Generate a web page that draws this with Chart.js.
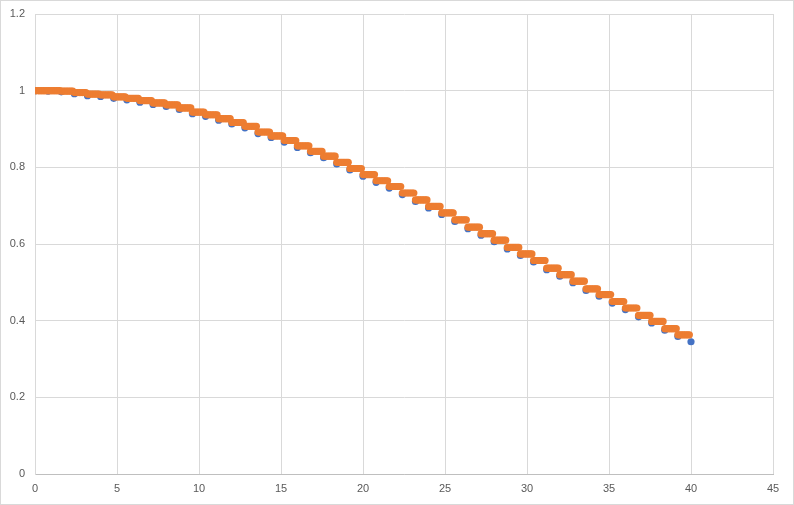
<!DOCTYPE html>
<html>
<head>
<meta charset="utf-8">
<script src="https://cdn.jsdelivr.net/npm/chart.js@4/dist/chart.umd.min.js"></script>
<style>
  html, body { margin: 0; padding: 0; background: #fff; }
  #wrap { position: absolute; left: 0; top: 0; width: 794px; height: 505px; box-sizing: border-box; border: 1px solid #d9d9d9; background: #fff; }
  canvas { display: block; }
</style>
</head>
<body>
<div id="wrap"><canvas id="c" width="792" height="503"></canvas></div>
<script>
// Tick labels
const xTicks = [0, 5, 10, 15, 20, 25, 30, 35, 40, 45];
const yTicks = [0, 0.2, 0.4, 0.6, 0.8, 1, 1.2];

// Series 1 (blue): sparse points
const blueX = [0, 0.8, 1.6, 2.4, 3.2, 4, 4.8, 5.6, 6.4, 7.2, 8, 8.8, 9.6, 10.4, 11.2, 12, 12.8, 13.6, 14.4, 15.2,
  16, 16.8, 17.6, 18.4, 19.2, 20, 20.8, 21.6, 22.4, 23.2, 24, 24.8, 25.6, 26.4, 27.2, 28, 28.8, 29.6, 30.4, 31.2,
  32, 32.8, 33.6, 34.4, 35.2, 36, 36.8, 37.6, 38.4, 39.2, 40];
const blueY = [1.000, 0.999, 0.997, 0.992, 0.987, 0.985, 0.980, 0.976, 0.970, 0.964, 0.959, 0.951, 0.940, 0.933, 0.923,
  0.913, 0.903, 0.888, 0.878, 0.866, 0.852, 0.838, 0.825, 0.809, 0.793, 0.777, 0.761, 0.746, 0.729, 0.711,
  0.694, 0.677, 0.659, 0.640, 0.623, 0.606, 0.587, 0.570, 0.553, 0.533, 0.516, 0.499, 0.479, 0.464, 0.446,
  0.429, 0.410, 0.394, 0.375, 0.359, 0.345];

// Series 2 (orange): held (step) values, one per 0.8-wide step, sampled every 0.1
const orangeStepStart = blueX.slice(0, 50);
const orangeStepY = [1.000, 1.000, 0.999, 0.995, 0.991, 0.989, 0.984, 0.980, 0.974, 0.968, 0.963, 0.955, 0.944, 0.937,
  0.927, 0.917, 0.907, 0.892, 0.882, 0.870, 0.856, 0.842, 0.829, 0.813, 0.797, 0.781, 0.765, 0.750, 0.733,
  0.715, 0.698, 0.681, 0.663, 0.644, 0.627, 0.610, 0.591, 0.574, 0.557, 0.537, 0.520, 0.503, 0.483, 0.468,
  0.450, 0.433, 0.414, 0.398, 0.379, 0.363];
const orangeSampleOffsets = [0, 0.1, 0.2, 0.3, 0.4, 0.5, 0.6, 0.7];

const blueData = blueX.map((x, i) => ({ x: x, y: blueY[i] }));
const orangeData = [];
orangeStepStart.forEach((s, k) => {
  orangeSampleOffsets.forEach(o => orangeData.push({ x: +(s + o).toFixed(2), y: orangeStepY[k] }));
});

const FONT = { family: "'Liberation Sans', Arial, sans-serif", size: 11 };
const TXT = '#595959';

new Chart(document.getElementById('c'), {
  type: 'scatter',
  data: {
    datasets: [
      { label: 'Series2', data: orangeData, backgroundColor: '#ED7D31', borderColor: '#ED7D31',
        pointRadius: 3.6, pointBorderWidth: 0, pointHoverRadius: 3.6, order: 0 },
      { label: 'Series1', data: blueData, backgroundColor: '#4472C4', borderColor: '#4472C4',
        pointRadius: 3.6, pointBorderWidth: 0, pointHoverRadius: 3.6, order: 1 }
    ]
  },
  options: {
    responsive: false,
    animation: false,
    events: [],
    layout: { padding: { left: 0, right: 20, top: 13, bottom: 0 } },
    plugins: { legend: { display: false }, tooltip: { enabled: false } },
    scales: {
      x: {
        type: 'linear', min: 0, max: 45,
        afterBuildTicks: s => { s.ticks = xTicks.map(v => ({ value: v })); },
        afterFit: s => { s.height = 30; s.paddingLeft = 0; s.paddingRight = 0; },
        grid: { color: '#d9d9d9', drawTicks: false, lineWidth: 1 },
        border: { color: '#bfbfbf', width: 1 },
        ticks: { autoSkip: false, maxRotation: 0, padding: 8, color: TXT, font: FONT,
          callback: v => String(v) }
      },
      y: {
        type: 'linear', min: 0, max: 1.2,
        afterBuildTicks: s => { s.ticks = yTicks.map(v => ({ value: v })); },
        afterFit: s => { s.width = 34; s.paddingTop = 0; s.paddingBottom = 0; },
        grid: { color: '#d9d9d9', drawTicks: false, lineWidth: 1 },
        border: { color: '#d9d9d9', width: 1 },
        ticks: { autoSkip: false, padding: 10, color: TXT, font: FONT,
          callback: v => String(+v.toFixed(1)) }
      }
    }
  }
});
</script>
</body>
</html>
